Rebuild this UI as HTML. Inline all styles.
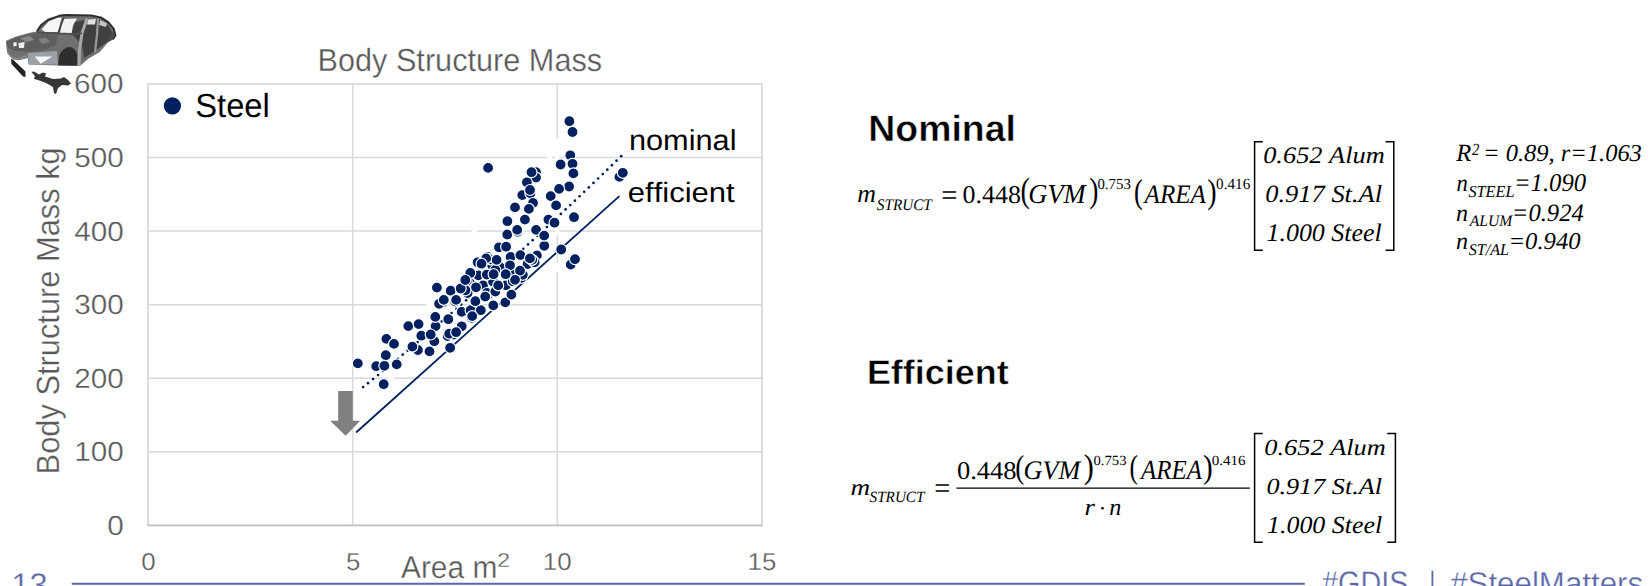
<!DOCTYPE html>
<html><head><meta charset="utf-8"><style>
html,body{margin:0;padding:0;background:#fff;width:1648px;height:586px;overflow:hidden}
svg{display:block}
text.lt{stroke:#fff;stroke-width:0.3px}
text.lt2{stroke:#fff;stroke-width:0.45px}
text{font-kerning:none;font-variant-ligatures:none;text-rendering:geometricPrecision}
</style></head><body>
<svg width="1648" height="586" viewBox="0 0 1648 586">
<rect width="1648" height="586" fill="#fff"/>
<line x1="148.0" y1="451.75" x2="762.0" y2="451.75" stroke="#d9d9d9" stroke-width="1.5"/>
<line x1="148.0" y1="378.20" x2="762.0" y2="378.20" stroke="#d9d9d9" stroke-width="1.5"/>
<line x1="148.0" y1="304.65" x2="762.0" y2="304.65" stroke="#d9d9d9" stroke-width="1.5"/>
<line x1="148.0" y1="231.10" x2="762.0" y2="231.10" stroke="#d9d9d9" stroke-width="1.5"/>
<line x1="148.0" y1="157.55" x2="762.0" y2="157.55" stroke="#d9d9d9" stroke-width="1.5"/>
<line x1="352.67" y1="84.0" x2="352.67" y2="525.3" stroke="#d9d9d9" stroke-width="1.5"/>
<line x1="557.33" y1="84.0" x2="557.33" y2="525.3" stroke="#d9d9d9" stroke-width="1.5"/>
<path d="M148.0,525.3 V84.0 H762.0 V525.3" fill="none" stroke="#d4d4d4" stroke-width="1.6"/>
<line x1="147.2" y1="525.3" x2="762.8" y2="525.3" stroke="#bfbfbf" stroke-width="1.8"/>
<g fill="#fff"><rect x="471.4" y="229" width="5.6" height="4"/><rect x="426" y="302.5" width="8" height="4"/><rect x="388" y="376" width="6" height="4"/><rect x="555" y="263" width="4.5" height="9.2"/><rect x="555" y="138.7" width="4.5" height="96.5"/><rect x="547" y="155.5" width="5" height="4"/></g>
<text class="lt" transform="translate(317.48,70.90) scale(0.9594,1)" style="font-family:'Liberation Sans',sans-serif;font-weight:normal;font-style:normal;font-size:31.98px" fill="#595959" >Body Structure Mass</text>
<circle cx="172.4" cy="105.9" r="8.6" fill="#002060"/>
<text transform="translate(195.32,117.20) scale(0.9783,1)" style="font-family:'Liberation Sans',sans-serif;font-weight:normal;font-style:normal;font-size:33.40px" fill="#000" >Steel</text>
<text class="lt" transform="translate(73.89,93.40) scale(1.0748,1)" style="font-family:'Liberation Sans',sans-serif;font-weight:normal;font-style:normal;font-size:27.64px" fill="#595959" >600</text>
<text class="lt" transform="translate(74.19,166.95) scale(1.0748,1)" style="font-family:'Liberation Sans',sans-serif;font-weight:normal;font-style:normal;font-size:27.64px" fill="#595959">500</text>
<text class="lt" transform="translate(74.19,240.50) scale(1.0748,1)" style="font-family:'Liberation Sans',sans-serif;font-weight:normal;font-style:normal;font-size:27.64px" fill="#595959">400</text>
<text class="lt" transform="translate(74.19,314.05) scale(1.0748,1)" style="font-family:'Liberation Sans',sans-serif;font-weight:normal;font-style:normal;font-size:27.64px" fill="#595959">300</text>
<text class="lt" transform="translate(74.19,387.60) scale(1.0748,1)" style="font-family:'Liberation Sans',sans-serif;font-weight:normal;font-style:normal;font-size:27.64px" fill="#595959">200</text>
<text class="lt" transform="translate(74.19,461.15) scale(1.0748,1)" style="font-family:'Liberation Sans',sans-serif;font-weight:normal;font-style:normal;font-size:27.64px" fill="#595959">100</text>
<text class="lt" transform="translate(107.24,534.70) scale(1.0748,1)" style="font-family:'Liberation Sans',sans-serif;font-weight:normal;font-style:normal;font-size:27.64px" fill="#595959">0</text>
<text class="lt" transform="translate(141.20,570.00) scale(1.0566,1)" style="font-family:'Liberation Sans',sans-serif;font-weight:normal;font-style:normal;font-size:24.49px" fill="#595959">0</text>
<text class="lt" transform="translate(345.90,570.00) scale(1.0566,1)" style="font-family:'Liberation Sans',sans-serif;font-weight:normal;font-style:normal;font-size:24.49px" fill="#595959">5</text>
<text class="lt" transform="translate(542.86,570.00) scale(1.0566,1)" style="font-family:'Liberation Sans',sans-serif;font-weight:normal;font-style:normal;font-size:24.49px" fill="#595959">10</text>
<text class="lt" transform="translate(747.57,570.00) scale(1.0566,1)" style="font-family:'Liberation Sans',sans-serif;font-weight:normal;font-style:normal;font-size:24.49px" fill="#595959">15</text>
<text class="lt" transform="translate(400.94,577.60) scale(0.9485,1)" style="font-family:'Liberation Sans',sans-serif;font-weight:normal;font-style:normal;font-size:31.54px" fill="#595959" >Area m</text>
<text class="lt" transform="translate(497.34,567.30) scale(1.1495,1)" style="font-family:'Liberation Sans',sans-serif;font-weight:normal;font-style:normal;font-size:20.05px" fill="#595959" >2</text>
<g transform="translate(59.1,471.9) rotate(-90)"><text class="lt" transform="translate(-2.53,0) scale(0.9599,1)" style="font-family:'Liberation Sans',sans-serif;font-size:32.12px" fill="#595959">Body Structure Mass kg</text></g>
<path d="M338.2,391.1 H352.8 V420.8 H360.2 L345.6,435.8 L330.2,420.8 H338.2 Z" fill="#808080"/>
<line x1="356.1" y1="432.5" x2="619.4" y2="196.2" stroke="#002060" stroke-width="1.8"/>
<g fill="#002060"><circle cx="621.23" cy="156.18" r="1.35"/><circle cx="616.58" cy="160.69" r="1.35"/><circle cx="611.94" cy="165.19" r="1.35"/><circle cx="607.29" cy="169.68" r="1.35"/><circle cx="602.77" cy="174.03" r="1.35"/><circle cx="598.13" cy="178.50" r="1.35"/><circle cx="593.48" cy="182.95" r="1.35"/><circle cx="588.84" cy="187.39" r="1.35"/><circle cx="584.19" cy="191.83" r="1.35"/><circle cx="579.54" cy="196.25" r="1.35"/><circle cx="574.90" cy="200.65" r="1.35"/><circle cx="570.25" cy="205.05" r="1.35"/><circle cx="565.60" cy="209.44" r="1.35"/><circle cx="560.83" cy="213.93" r="1.35"/><circle cx="556.18" cy="218.29" r="1.35"/><circle cx="551.54" cy="222.64" r="1.35"/><circle cx="546.89" cy="226.97" r="1.35"/><circle cx="542.11" cy="231.42" r="1.35"/><circle cx="537.47" cy="235.73" r="1.35"/><circle cx="532.69" cy="240.15" r="1.35"/><circle cx="528.05" cy="244.43" r="1.35"/><circle cx="523.27" cy="248.82" r="1.35"/><circle cx="518.50" cy="253.20" r="1.35"/><circle cx="513.85" cy="257.44" r="1.35"/><circle cx="509.07" cy="261.79" r="1.35"/><circle cx="504.30" cy="266.13" r="1.35"/><circle cx="499.52" cy="270.45" r="1.35"/><circle cx="494.75" cy="274.75" r="1.35"/><circle cx="489.97" cy="279.05" r="1.35"/><circle cx="485.20" cy="283.32" r="1.35"/><circle cx="480.42" cy="287.59" r="1.35"/><circle cx="475.65" cy="291.83" r="1.35"/><circle cx="470.87" cy="296.07" r="1.35"/><circle cx="466.10" cy="300.28" r="1.35"/><circle cx="461.19" cy="304.60" r="1.35"/><circle cx="456.42" cy="308.78" r="1.35"/><circle cx="451.51" cy="313.06" r="1.35"/><circle cx="446.74" cy="317.22" r="1.35"/><circle cx="441.83" cy="321.46" r="1.35"/><circle cx="437.06" cy="325.58" r="1.35"/><circle cx="432.15" cy="329.80" r="1.35"/><circle cx="427.25" cy="333.99" r="1.35"/><circle cx="422.34" cy="338.17" r="1.35"/><circle cx="417.57" cy="342.22" r="1.35"/><circle cx="412.66" cy="346.36" r="1.35"/><circle cx="407.63" cy="350.59" r="1.35"/><circle cx="402.73" cy="354.69" r="1.35"/><circle cx="397.82" cy="358.78" r="1.35"/><circle cx="392.92" cy="362.84" r="1.35"/><circle cx="387.88" cy="366.99" r="1.35"/><circle cx="382.98" cy="371.01" r="1.35"/><circle cx="378.08" cy="375.01" r="1.35"/><circle cx="373.04" cy="379.10" r="1.35"/><circle cx="368.01" cy="383.16" r="1.35"/><circle cx="363.10" cy="387.10" r="1.35"/></g>
<g fill="#002060" stroke="#fff" stroke-width="1.2"><circle cx="357.8" cy="363.4" r="5.5"/><circle cx="386.4" cy="338.9" r="5.5"/><circle cx="394.0" cy="343.9" r="5.5"/><circle cx="385.8" cy="355.2" r="5.5"/><circle cx="376.2" cy="366.2" r="5.5"/><circle cx="384.4" cy="365.8" r="5.5"/><circle cx="396.7" cy="364.4" r="5.5"/><circle cx="383.7" cy="384.2" r="5.5"/><circle cx="408.3" cy="326.1" r="5.5"/><circle cx="418.6" cy="324.1" r="5.5"/><circle cx="435.6" cy="326.1" r="5.5"/><circle cx="421.3" cy="335.7" r="5.5"/><circle cx="417.9" cy="350.0" r="5.5"/><circle cx="429.5" cy="351.4" r="5.5"/><circle cx="412.4" cy="346.6" r="5.5"/><circle cx="434.3" cy="341.2" r="5.5"/><circle cx="435.3" cy="316.9" r="5.5"/><circle cx="448.3" cy="319.2" r="5.5"/><circle cx="447.6" cy="336.1" r="5.5"/><circle cx="453.7" cy="334.6" r="5.5"/><circle cx="443.0" cy="302.3" r="5.5"/><circle cx="439.1" cy="303.8" r="5.5"/><circle cx="455.2" cy="301.5" r="5.5"/><circle cx="450.1" cy="347.8" r="5.5"/><circle cx="461.7" cy="326.3" r="5.5"/><circle cx="461.7" cy="311.9" r="5.5"/><circle cx="470.6" cy="310.2" r="5.5"/><circle cx="471.8" cy="317.9" r="5.5"/><circle cx="480.8" cy="310.2" r="5.5"/><circle cx="493.3" cy="305.4" r="5.5"/><circle cx="505.3" cy="302.4" r="5.5"/><circle cx="475.4" cy="301.2" r="5.5"/><circle cx="436.9" cy="287.6" r="5.5"/><circle cx="450.7" cy="290.7" r="5.5"/><circle cx="443.8" cy="299.9" r="5.5"/><circle cx="456.1" cy="299.9" r="5.5"/><circle cx="463.0" cy="288.4" r="5.5"/><circle cx="467.6" cy="293.0" r="5.5"/><circle cx="469.9" cy="283.0" r="5.5"/><circle cx="477.6" cy="262.3" r="5.5"/><circle cx="478.4" cy="275.4" r="5.5"/><circle cx="483.0" cy="285.3" r="5.5"/><circle cx="487.6" cy="295.3" r="5.5"/><circle cx="493.0" cy="281.5" r="5.5"/><circle cx="492.2" cy="265.4" r="5.5"/><circle cx="500.6" cy="267.7" r="5.5"/><circle cx="510.6" cy="256.9" r="5.5"/><circle cx="513.7" cy="274.6" r="5.5"/><circle cx="506.0" cy="285.3" r="5.5"/><circle cx="511.4" cy="294.6" r="5.5"/><circle cx="472.2" cy="316.1" r="5.5"/><circle cx="430.7" cy="334.5" r="5.5"/><circle cx="449.2" cy="333.7" r="5.5"/><circle cx="456.1" cy="332.2" r="5.5"/><circle cx="486.8" cy="274.6" r="5.5"/><circle cx="495.3" cy="270.0" r="5.5"/><circle cx="487.6" cy="256.9" r="5.5"/><circle cx="507.3" cy="234.5" r="5.5"/><circle cx="517.5" cy="231.8" r="5.5"/><circle cx="499.0" cy="247.3" r="5.5"/><circle cx="506.1" cy="246.7" r="5.5"/><circle cx="520.4" cy="255.1" r="5.5"/><circle cx="527.6" cy="264.0" r="5.5"/><circle cx="490.0" cy="259.3" r="5.5"/><circle cx="496.6" cy="259.9" r="5.5"/><circle cx="512.7" cy="281.3" r="5.5"/><circle cx="521.6" cy="277.8" r="5.5"/><circle cx="493.6" cy="274.2" r="5.5"/><circle cx="466.7" cy="281.3" r="5.5"/><circle cx="470.3" cy="273.0" r="5.5"/><circle cx="465.5" cy="290.3" r="5.5"/><circle cx="460.7" cy="288.5" r="5.5"/><circle cx="522.8" cy="274.8" r="5.5"/><circle cx="544.3" cy="245.8" r="5.5"/><circle cx="561.2" cy="249.5" r="5.5"/><circle cx="570.7" cy="264.6" r="5.5"/><circle cx="575.0" cy="259.2" r="5.5"/><circle cx="536.9" cy="255.4" r="5.5"/><circle cx="534.6" cy="262.3" r="5.5"/><circle cx="536.0" cy="172.2" r="5.5"/><circle cx="536.0" cy="177.6" r="5.5"/><circle cx="526.9" cy="182.3" r="5.5"/><circle cx="569.1" cy="186.5" r="5.5"/><circle cx="559.1" cy="188.9" r="5.5"/><circle cx="550.7" cy="196.1" r="5.5"/><circle cx="522.3" cy="195.1" r="5.5"/><circle cx="530.4" cy="193.3" r="5.5"/><circle cx="533.0" cy="203.0" r="5.5"/><circle cx="528.9" cy="208.9" r="5.5"/><circle cx="515.0" cy="207.4" r="5.5"/><circle cx="556.1" cy="205.4" r="5.5"/><circle cx="574.0" cy="217.2" r="5.5"/><circle cx="548.4" cy="219.6" r="5.5"/><circle cx="554.5" cy="222.7" r="5.5"/><circle cx="524.9" cy="219.6" r="5.5"/><circle cx="507.4" cy="221.2" r="5.5"/><circle cx="517.2" cy="229.9" r="5.5"/><circle cx="536.1" cy="229.9" r="5.5"/><circle cx="544.2" cy="235.6" r="5.5"/><circle cx="532.2" cy="259.9" r="5.5"/><circle cx="486.1" cy="258.4" r="5.5"/><circle cx="481.5" cy="263.7" r="5.5"/><circle cx="569.4" cy="121.2" r="5.5"/><circle cx="572.5" cy="132.0" r="5.5"/><circle cx="570.3" cy="155.3" r="5.5"/><circle cx="560.6" cy="164.5" r="5.5"/><circle cx="572.5" cy="163.8" r="5.5"/><circle cx="573.4" cy="173.4" r="5.5"/><circle cx="488.1" cy="167.9" r="5.5"/><circle cx="531.5" cy="172.2" r="5.5"/><circle cx="530.0" cy="190.0" r="5.5"/><circle cx="520.0" cy="270.7" r="5.5"/><circle cx="510.0" cy="265.3" r="5.5"/><circle cx="529.9" cy="258.4" r="5.5"/><circle cx="465.3" cy="280.0" r="5.5"/><circle cx="486.9" cy="293.0" r="5.5"/><circle cx="495.3" cy="291.5" r="5.5"/><circle cx="515.0" cy="279.8" r="5.5"/><circle cx="485.2" cy="296.6" r="5.5"/><circle cx="498.2" cy="285.4" r="5.5"/><circle cx="505.7" cy="274.2" r="5.5"/><circle cx="476.0" cy="287.3" r="5.5"/><circle cx="619.4" cy="176.9" r="5.5"/><circle cx="622.8" cy="172.8" r="5.5"/></g>
<text transform="translate(628.96,150.00) scale(1.0666,1)" style="font-family:'Liberation Sans',sans-serif;font-weight:normal;font-style:normal;font-size:28.81px" fill="#000" >nominal</text>
<text transform="translate(627.78,201.60) scale(1.1058,1)" style="font-family:'Liberation Sans',sans-serif;font-weight:normal;font-style:normal;font-size:28.06px" fill="#000" >efficient</text>
<text class="lt2" transform="translate(868.30,141.30) scale(1.0228,1)" style="font-family:'Liberation Sans',sans-serif;font-weight:bold;font-style:normal;font-size:36.57px" fill="#000" >Nominal</text>
<text class="lt2" transform="translate(866.90,384.30) scale(1.0498,1)" style="font-family:'Liberation Sans',sans-serif;font-weight:bold;font-style:normal;font-size:34.23px" fill="#000" >Efficient</text>
<text transform="translate(857.36,202.30) scale(1.0097,1)" style="font-family:'Liberation Serif',serif;font-weight:normal;font-style:italic;font-size:25.68px" fill="#000" >m</text>
<text transform="translate(876.82,209.50) scale(0.9418,1)" style="font-family:'Liberation Serif',serif;font-weight:normal;font-style:italic;font-size:16.16px" fill="#000" >STRUCT</text>
<text transform="translate(941.37,205.49) scale(0.2880,0.3040)" style="font-family:'Liberation Serif',serif;font-weight:normal;font-style:normal;font-size:100.00px" fill="#000">=</text>
<text transform="translate(962.51,202.50) scale(1.0210,1)" style="font-family:'Liberation Serif',serif;font-weight:normal;font-style:normal;font-size:25.41px" fill="#000" >0.448</text>
<text transform="translate(1020.47,202.31) scale(0.2803,0.3518)" style="font-family:'Liberation Serif',serif;font-weight:normal;font-style:normal;font-size:100.00px" fill="#000">(</text>
<text transform="translate(1028.24,202.70) scale(0.9702,1)" style="font-family:'Liberation Serif',serif;font-weight:normal;font-style:italic;font-size:27.34px" fill="#000" >GVM</text>
<text transform="translate(1089.21,202.31) scale(0.2764,0.3518)" style="font-family:'Liberation Serif',serif;font-weight:normal;font-style:normal;font-size:100.00px" fill="#000">)</text>
<text transform="translate(1097.43,188.90) scale(0.9692,1)" style="font-family:'Liberation Serif',serif;font-weight:normal;font-style:normal;font-size:15.34px" fill="#000" >0.753</text>
<text transform="translate(1133.94,202.53) scale(0.2648,0.3463)" style="font-family:'Liberation Serif',serif;font-weight:normal;font-style:normal;font-size:100.00px" fill="#000">(</text>
<text transform="translate(1144.57,202.70) scale(0.9417,1)" style="font-family:'Liberation Serif',serif;font-weight:normal;font-style:italic;font-size:26.66px" fill="#000" >AREA</text>
<text transform="translate(1207.30,202.53) scale(0.2803,0.3463)" style="font-family:'Liberation Serif',serif;font-weight:normal;font-style:normal;font-size:100.00px" fill="#000">)</text>
<text transform="translate(1216.12,188.90) scale(0.9700,1)" style="font-family:'Liberation Serif',serif;font-weight:normal;font-style:normal;font-size:15.64px" fill="#000" >0.416</text>
<path d="M1262.8,141.8 H1254.6 V250.2 H1262.8 M1385.6,141.8 H1393.8 V250.2 H1385.6" fill="none" stroke="#000" stroke-width="1.5"/>
<text transform="translate(1263.18,163.20) scale(1.1092,1)" style="font-family:'Liberation Serif',serif;font-weight:normal;font-style:italic;font-size:23.78px" fill="#000" >0.652 Alum</text>
<text transform="translate(1265.28,202.20) scale(1.0731,1)" style="font-family:'Liberation Serif',serif;font-weight:normal;font-style:italic;font-size:24.65px" fill="#000" >0.917 St.Al</text>
<text transform="translate(1266.48,241.00) scale(1.0279,1)" style="font-family:'Liberation Serif',serif;font-weight:normal;font-style:italic;font-size:25.22px" fill="#000" >1.000 Steel</text>
<text transform="translate(1456.23,161.30) scale(0.9909,1)" style="font-family:'Liberation Serif',serif;font-weight:normal;font-style:italic;font-size:24.74px" fill="#000" >R</text>
<text transform="translate(1472.09,154.70) scale(0.8589,1)" style="font-family:'Liberation Serif',serif;font-weight:normal;font-style:italic;font-size:17.07px" fill="#000" >2</text>
<text transform="translate(1483.02,161.40) scale(1.0049,1)" style="font-family:'Liberation Serif',serif;font-weight:normal;font-style:italic;font-size:24.36px" fill="#000" >= 0.89, r=1.063</text>
<text transform="translate(1456.39,190.90) scale(0.9384,1)" style="font-family:'Liberation Serif',serif;font-weight:normal;font-style:italic;font-size:24.19px" fill="#000" >n</text>
<text transform="translate(1468.41,196.60) scale(0.9695,1)" style="font-family:'Liberation Serif',serif;font-weight:normal;font-style:italic;font-size:16.76px" fill="#000" >STEEL</text>
<text transform="translate(1513.89,190.90) scale(0.9717,1)" style="font-family:'Liberation Serif',serif;font-weight:normal;font-style:italic;font-size:25.41px" fill="#000" >=1.090</text>
<text transform="translate(1456.04,220.70) scale(0.9970,1)" style="font-family:'Liberation Serif',serif;font-weight:normal;font-style:italic;font-size:24.19px" fill="#000" >n</text>
<text transform="translate(1469.75,226.10) scale(0.9800,1)" style="font-family:'Liberation Serif',serif;font-weight:normal;font-style:italic;font-size:15.91px" fill="#000" >ALUM</text>
<text transform="translate(1511.80,220.70) scale(0.9856,1)" style="font-family:'Liberation Serif',serif;font-weight:normal;font-style:italic;font-size:24.96px" fill="#000" >=0.924</text>
<text transform="translate(1456.04,249.30) scale(0.9970,1)" style="font-family:'Liberation Serif',serif;font-weight:normal;font-style:italic;font-size:24.19px" fill="#000" >n</text>
<text transform="translate(1468.71,255.00) scale(0.9892,1)" style="font-family:'Liberation Serif',serif;font-weight:normal;font-style:italic;font-size:16.31px" fill="#000" >ST/AL</text>
<text transform="translate(1508.39,249.30) scale(1.0264,1)" style="font-family:'Liberation Serif',serif;font-weight:normal;font-style:italic;font-size:24.06px" fill="#000" >=0.940</text>
<text transform="translate(850.62,494.70) scale(1.1746,1)" style="font-family:'Liberation Serif',serif;font-weight:normal;font-style:italic;font-size:23.13px" fill="#000" >m</text>
<text transform="translate(869.52,501.70) scale(0.9690,1)" style="font-family:'Liberation Serif',serif;font-weight:normal;font-style:italic;font-size:15.71px" fill="#000" >STRUCT</text>
<text transform="translate(934.29,498.11) scale(0.2837,0.3000)" style="font-family:'Liberation Serif',serif;font-weight:normal;font-style:normal;font-size:100.00px" fill="#000">=</text>
<line x1="956.4" y1="488.2" x2="1249.9" y2="488.2" stroke="#000" stroke-width="1.3"/>
<text transform="translate(956.89,478.60) scale(1.0427,1)" style="font-family:'Liberation Serif',serif;font-weight:normal;font-style:normal;font-size:25.41px" fill="#000" >0.448</text>
<text transform="translate(1015.30,477.73) scale(0.2725,0.3320)" style="font-family:'Liberation Serif',serif;font-weight:normal;font-style:normal;font-size:100.00px" fill="#000">(</text>
<text transform="translate(1023.45,478.60) scale(0.9817,1)" style="font-family:'Liberation Serif',serif;font-weight:normal;font-style:italic;font-size:26.73px" fill="#000" >GVM</text>
<text transform="translate(1083.72,477.52) scale(0.3037,0.3419)" style="font-family:'Liberation Serif',serif;font-weight:normal;font-style:normal;font-size:100.00px" fill="#000">)</text>
<text transform="translate(1093.54,465.00) scale(1.0498,1)" style="font-family:'Liberation Serif',serif;font-weight:normal;font-style:normal;font-size:13.98px" fill="#000" >0.753</text>
<text transform="translate(1129.59,477.69) scale(0.2531,0.3342)" style="font-family:'Liberation Serif',serif;font-weight:normal;font-style:normal;font-size:100.00px" fill="#000">(</text>
<text transform="translate(1141.06,478.60) scale(0.9034,1)" style="font-family:'Liberation Serif',serif;font-weight:normal;font-style:italic;font-size:27.57px" fill="#000" >AREA</text>
<text transform="translate(1202.96,477.69) scale(0.2920,0.3342)" style="font-family:'Liberation Serif',serif;font-weight:normal;font-style:normal;font-size:100.00px" fill="#000">)</text>
<text transform="translate(1211.73,465.00) scale(1.0782,1)" style="font-family:'Liberation Serif',serif;font-weight:normal;font-style:normal;font-size:13.98px" fill="#000" >0.416</text>
<text transform="translate(1084.52,514.80) scale(1.1149,1)" style="font-family:'Liberation Serif',serif;font-weight:normal;font-style:italic;font-size:23.98px" fill="#000" >r</text>
<circle cx="1102.5" cy="508.2" r="1.3" fill="#000"/>
<text transform="translate(1109.34,514.80) scale(1.0058,1)" style="font-family:'Liberation Serif',serif;font-weight:normal;font-style:italic;font-size:23.98px" fill="#000" >n</text>
<path d="M1262.8,433.5 H1254.6 V542.3 H1262.8 M1387.2,433.5 H1395.4 V542.3 H1387.2" fill="none" stroke="#000" stroke-width="1.5"/>
<text transform="translate(1264.28,454.90) scale(1.1429,1)" style="font-family:'Liberation Serif',serif;font-weight:normal;font-style:italic;font-size:23.06px" fill="#000" >0.652 Alum</text>
<text transform="translate(1266.39,494.30) scale(1.1359,1)" style="font-family:'Liberation Serif',serif;font-weight:normal;font-style:italic;font-size:23.06px" fill="#000" >0.917 St.Al</text>
<text transform="translate(1267.08,532.70) scale(1.0563,1)" style="font-family:'Liberation Serif',serif;font-weight:normal;font-style:italic;font-size:24.50px" fill="#000" >1.000 Steel</text>
<line x1="71.7" y1="583.8" x2="1304.8" y2="583.8" stroke="#5b68a8" stroke-width="2"/>
<text class="lt" transform="translate(11.31,596.49) scale(1.0003,1)" style="font-family:'Liberation Sans',sans-serif;font-weight:normal;font-style:normal;font-size:32.64px" fill="#5b68a8" >13</text>
<text class="lt" transform="translate(1322.07,593.64) scale(0.8787,1)" style="font-family:'Liberation Sans',sans-serif;font-weight:normal;font-style:normal;font-size:32.71px" fill="#5b68a8" >#GDIS</text>
<rect x="1431.5" y="570.8" width="1.8" height="20" fill="#5b68a8"/>
<text class="lt" transform="translate(1450.16,593.64) scale(0.9924,1)" style="font-family:'Liberation Sans',sans-serif;font-weight:normal;font-style:normal;font-size:31.52px" fill="#5b68a8" >#SteelMatters</text>
<g>
<path d="M6.1,40.7 L15.4,36.8 L29.7,32.7 L36.8,31.5 L40.9,25.4 L48.1,19.7 L60,15.6 L66.1,15 L91.6,15.5 L101.6,17.8 L108.2,22.2 L113.8,28.9 L115.5,35.5 L112.7,39.4 L108.2,42.2 L99.4,52.2 L88.3,58.8 L80.5,65.5 L76.1,66 L28.7,64.6 L27.6,58 L18.4,60.2 L12.3,59.1 L7.2,53 L6.1,43.8 Z" fill="#6f6f6f"/>
<path d="M41.5,29.5 L48.5,21.5 L58,17.5 L61.5,17.8 L58,32 L45,32 Z" fill="#f6f6f6"/>
<path d="M62.8,19 L77.2,18.5 L73,25 L71.6,33.5 L60,33.5 Z" fill="#f2f2f2"/>
<path d="M71.6,33.5 L75,22 L88,19.5 L100,19.5 L108,25 L112,32 L111,39 L103,45 L92,53 L84,58 L82,45 Z" fill="#404040"/>
<path d="M88,19.5 L96,19 L95,24.5 L87,24.5 Z" fill="#e2e2e2"/>
<path d="M100,20 L107,23.5 L106,27 L99,25 Z" fill="#c4c4c4"/>
<path d="M36.8,31.5 L40.9,25.4 L48.1,19.7 L60,15.6 L66.1,15 L91.6,15.5 L101.6,17.8 L108.2,22.2 L113.8,28.9 L115.5,35.5 L112.7,39.4" fill="none" stroke="#2e2e2e" stroke-width="2" stroke-linejoin="round"/>
<path d="M58,33 L64,17.5" fill="none" stroke="#3a3a3a" stroke-width="1.4"/>
<path d="M87,18.5 L82,33 L79.5,50 L79,65.5" fill="none" stroke="#a8a8a8" stroke-width="3"/>
<path d="M98,18.5 L97,35 L95,52" fill="none" stroke="#9a9a9a" stroke-width="2.2"/>
<path d="M112,31 L115,35.5 L112.7,39.4 L108,42 Z" fill="#4a4a4a"/>
<path d="M36.8,32.5 L58,33.5 L71.6,33.8 L82,33.3" fill="none" stroke="#4e4e4e" stroke-width="1.8"/>
<path d="M58,65.5 L59,56 Q63,47 70,47 Q76,48.5 77.2,55 L77.2,65.5 Z" fill="#2e2e2e"/>
<path d="M6.5,42 L15,38 L25,35.5 L35,33.5 L48,34 L58,35 L56,45 L44,50 L30,52 L15,51 L8,48 Z" fill="#5e5e5e"/>
<path d="M20,38 L30,36 L34,40 L26,42 Z" fill="#8a8a8a"/>
<path d="M38,39 L46,37.5 L50,42 L42,44 Z" fill="#7d7d7d"/>
<path d="M13.3,42.8 L16.4,42 L16.8,45.8 L13.5,46.5 Z" fill="#f2f2f2"/>
<path d="M18.4,43 L24.6,42 L24,47.9 L19,48 Z" fill="#ececec"/>
<path d="M27.6,53 L57,51 L58,64.6 L28.7,64.6 Z" fill="#9ba0a6"/>
<path d="M34.6,56.5 L52.3,56.5 L40.7,63.8 Z" fill="#f8f8f8"/>
<path d="M7.2,50 L12.3,57 L18.4,58 L26,55 L27.6,58 L18.4,60.2 L12.3,59.1 L7.2,53 Z" fill="#858585"/>
<path d="M11,59 L13.5,60 L25.5,71.5 L25.5,77 L23,76.5 L11.5,64 Z" fill="#232323"/>
<path d="M31.5,72 L34,71.5 L39,74.5 L43,72.5 L46,73.5 L45,76.5 L53,79 L61,78.5 L64,77 L68,80 L71,83.5 L68,85.5 L62,85 L58,88 L56,94 L54,93 L53,87 L46,83 L38,80 L34,79 L35,76 Z" fill="#363636"/>
</g>
</svg></body></html>
